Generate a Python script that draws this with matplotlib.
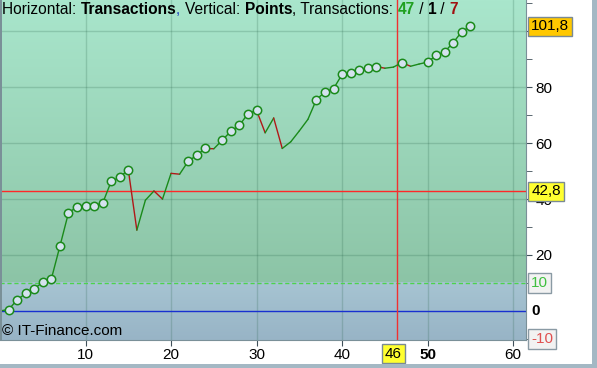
import numpy as np
import matplotlib
matplotlib.use("Agg")
import matplotlib.pyplot as plt
from matplotlib.patches import Rectangle

plt.rcParams['font.family'] = ['Liberation Sans', 'DejaVu Sans']

# equity curve: cumulative points after each transaction
trans = list(range(0, 56))
points = [0, 0.5, 3.9, 6.3, 8.0, 10.2, 11.4, 23.1, 35.0, 37.3,
          37.5, 37.7, 38.5, 46.3, 47.8, 50.5, 28.9, 39.6, 42.9, 40.0,
          49.2, 48.9, 53.5, 55.7, 58.1, 58.0, 61.1, 64.3, 66.4, 70.6,
          71.7, 63.7, 69.0, 58.1, 60.5, 64.4, 68.5, 75.6, 78.3, 79.5,
          84.6, 85.2, 86.0, 86.9, 87.4, 86.8, 87.2, 88.8, 87.5, 88.3,
          89.0, 91.4, 92.7, 96.0, 99.9, 101.8]
n_win, n_even, n_loss = 47, 1, 7
avg_level = 42.8
cur_trans = 46.4
x_ticks = [10, 20, 30, 40, 50, 60]
y_ticks = [20, 40, 60, 80, 100]

W, H = 597, 368
fig = plt.figure(figsize=(W / 100, H / 100), dpi=100)
ax = fig.add_axes([0.0, 28 / H, 526 / W, 1 - 28 / H])
xmin, xmax = 0, 61.5
ymin, ymax = -10.4, 111.2
ax.set_xlim(xmin, xmax)
ax.set_ylim(ymin, ymax)

# backgrounds
grad = np.linspace(0, 1, 256).reshape(-1, 1)
top = np.array([0xa9, 0xe6, 0xcc]) / 255
bot = np.array([0x8c, 0xc4, 0xa6]) / 255
img = top + (bot - top) * grad[:, :, None]
ax.imshow(img, extent=[xmin, xmax, 10, ymax], aspect='auto', zorder=0, origin='upper')
grad2 = np.linspace(0, 1, 64).reshape(-1, 1)
t2 = np.array([0xa6, 0xc4, 0xd2]) / 255
b2 = np.array([0x98, 0xb4, 0xc6]) / 255
img2 = t2 + (b2 - t2) * grad2[:, :, None]
ax.imshow(img2, extent=[xmin, xmax, ymin, 10], aspect='auto', zorder=0, origin='upper')

# grid
for xv in x_ticks:
    ax.axvline(xv, color='#1f5a40', alpha=0.2, lw=1.0, zorder=1)
for yv in y_ticks:
    ax.axhline(yv, color='#1f5a40', alpha=0.2, lw=1.0, zorder=1)

ax.axhline(10, color='#4cd44c', lw=1.0, ls=(0, (3, 2)), zorder=2)
ax.axhline(0, color='#1830d0', lw=1.0, zorder=2)
ax.axhline(avg_level, color='#ff2828', lw=1.0, zorder=2)
ax.axvline(cur_trans, color='#f03030', lw=1.0, zorder=2)

# equity segments, green up / red down
for i in range(1, len(trans)):
    c = '#1a8a1a' if points[i] >= points[i - 1] else '#b01818'
    ax.plot(trans[i - 1:i + 1], points[i - 1:i + 1], color=c, lw=1.0, zorder=3,
            solid_capstyle='round')

# circles on new highs
hi_x, hi_y = [], []
best = points[0]
for i in range(1, len(trans)):
    if points[i] > best:
        hi_x.append(trans[i])
        hi_y.append(points[i])
        best = points[i]
ax.plot(hi_x, hi_y, 'o', ms=6, mfc='#d4e2ee', mec='#1a8a1a', mew=1.1, zorder=4)

# axes styling
for s in ['top', 'left']:
    ax.spines[s].set_visible(False)
ax.spines['right'].set_color('#7a9098')
ax.spines['bottom'].set_color('#7a9098')
ax.yaxis.tick_right()
ax.set_yticks(y_ticks)
ax.set_yticklabels(['20', '40', '60', '80', ''])
ax.set_yticks([-10, 10, 30, 50, 70, 90, 110], minor=True)
ax.set_xticks(x_ticks)
ax.set_xticklabels([str(v) for v in x_ticks])
ax.tick_params(axis='both', which='both', length=4, color='#40505a', labelsize=11, pad=2)
ax.tick_params(axis='y', which='major', pad=3)
ax.get_xticklabels()[4].set_fontweight('bold')

box_kw = dict(fontsize=11, va='center', ha='left', clip_on=False, zorder=10)
ax.text(xmax + 0.6, 0, '0', fontweight='bold', **box_kw)
ax.text(xmax + 0.6, 10, '10', color='#40c040',
        bbox=dict(boxstyle='square,pad=0.18', fc='#f2f2f2', ec='#8a9aa4', lw=1), **box_kw)
ax.text(xmax + 0.6, -10, '-10', color='#e05050',
        bbox=dict(boxstyle='square,pad=0.18', fc='#f2f2f2', ec='#8a9aa4', lw=1), **box_kw)
ax.text(xmax + 0.6, points[-1], f'{points[-1]:.1f}'.replace('.', ','),
        bbox=dict(boxstyle='square,pad=0.18', fc='#ffc800', ec='#7a8a94', lw=1), **box_kw)
ax.text(xmax + 0.6, avg_level, f'{avg_level:.1f}'.replace('.', ','),
        bbox=dict(boxstyle='square,pad=0.18', fc='#ffff30', ec='#7a8a94', lw=1), **box_kw)
ax.text(46, ymin - 2.4, '46', fontsize=11, va='top', ha='center', clip_on=False, zorder=10,
        bbox=dict(boxstyle='square,pad=0.18', fc='#ffff30', ec='#7a8a94', lw=1))

ax.text(0.2, -7.3, '\u00a9 IT-Finance.com', fontsize=11, va='center', ha='left', zorder=10)

# header line built from pieces
pieces = [('Horizontal: ', 'normal', 'black'), ('Transactions', 'bold', 'black'),
          (', ', 'normal', '#2040c0'), ('Vertical: ', 'normal', 'black'),
          ('Points', 'bold', 'black'), (', Transactions: ', 'normal', 'black'),
          (str(n_win), 'bold', '#20a020'), (' / ', 'normal', 'black'),
          (str(n_even), 'bold', 'black'), (' / ', 'normal', 'black'),
          (str(n_loss), 'bold', '#a01010')]
r = fig.canvas.get_renderer()
xp = 2
for txt, w, c in pieces:
    t = fig.text(xp / W, 1 - 2 / H, txt, fontsize=11.2, fontweight=w, color=c,
                 va='top', ha='left', zorder=10)
    xp += t.get_window_extent(r).width + (-0.5 if w == 'bold' else 0.5)

# outer frame
fig.patches.append(Rectangle((592 / W, 0), 5 / W, 1, transform=fig.transFigure,
                             fc='#a4b8c4', ec='none'))
fig.patches.append(Rectangle((0, 0), 1, 4 / H, transform=fig.transFigure,
                             fc='#a4b8c4', ec='none'))
fig.patches.append(Rectangle((0, 28 / H), 1.5 / W, 1, transform=fig.transFigure,
                             fc='#7a9098', ec='none'))

fig.savefig('out.png', dpi=100)
